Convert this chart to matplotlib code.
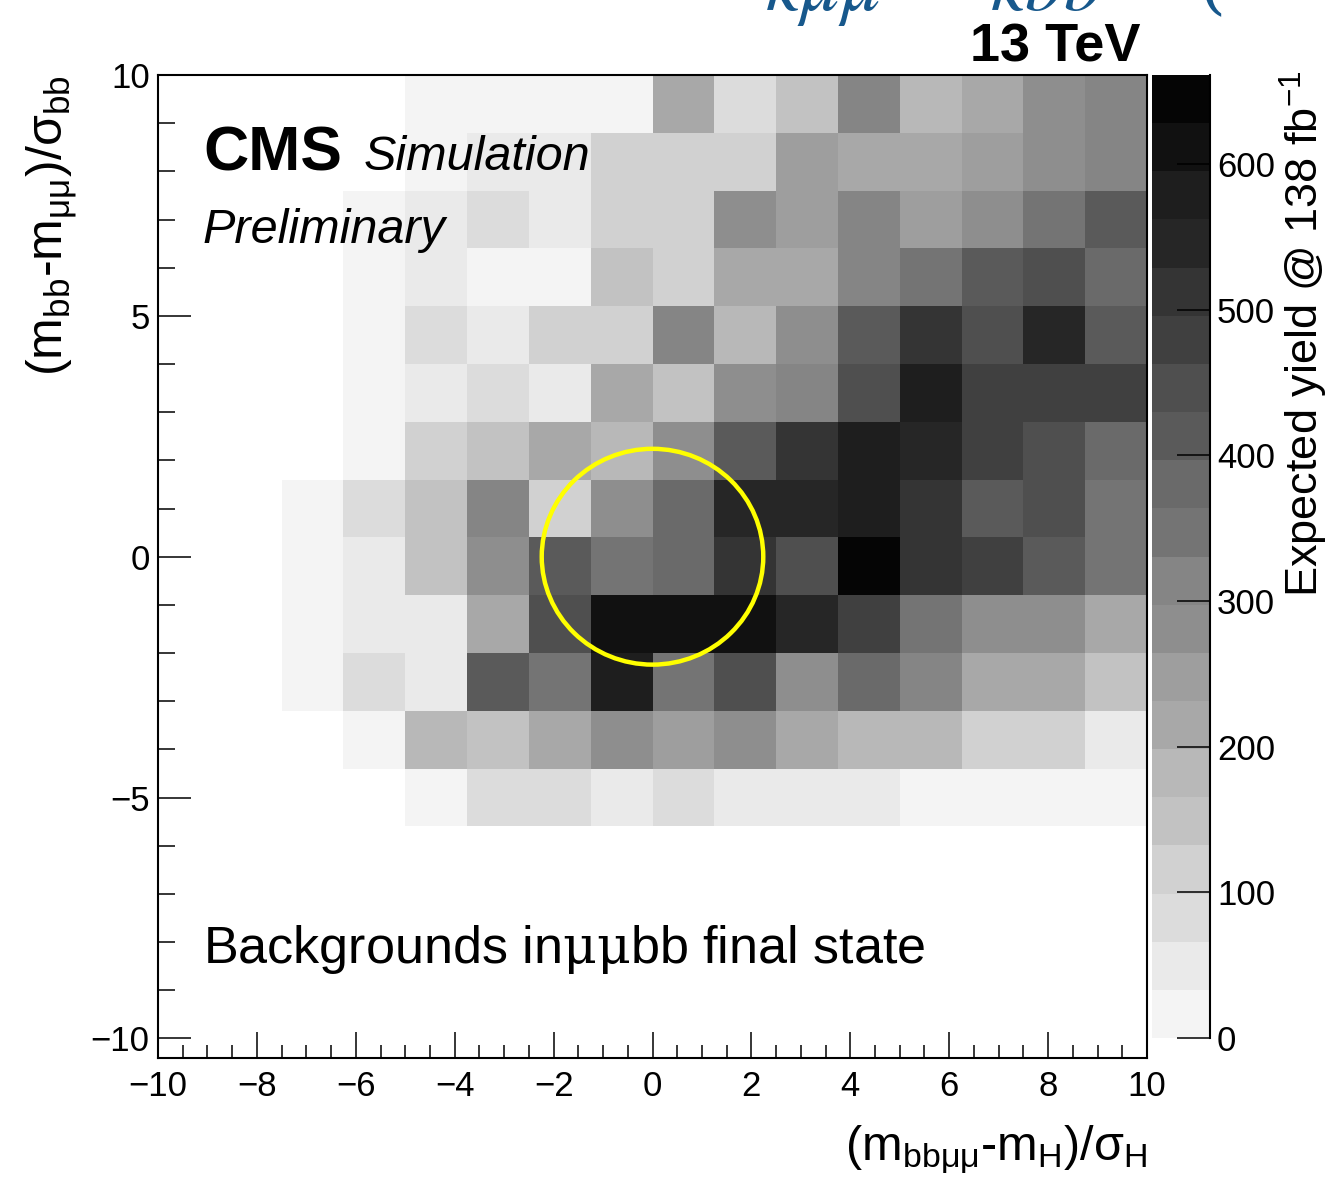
import numpy as np
import matplotlib
matplotlib.use("Agg")
import matplotlib.pyplot as plt
from matplotlib.colors import ListedColormap, BoundaryNorm
from matplotlib.patches import Circle
from matplotlib.ticker import MultipleLocator

plt.rcParams["font.family"] = ["Liberation Sans", "DejaVu Sans"]
plt.rcParams["mathtext.fontset"] = "custom"
plt.rcParams["mathtext.rm"] = "Liberation Sans"
plt.rcParams["mathtext.it"] = "Liberation Sans:italic"
plt.rcParams["mathtext.bf"] = "Liberation Sans:bold"
plt.rcParams["mathtext.sf"] = "Liberation Sans"

# binning: 16 x 17 bins
x_edges = np.linspace(-10.0, 10.0, 17)
y_edges = np.linspace(-10.4, 10.0, 18)

# expected background yield per bin, rows listed from the top (y = 10) downwards
yield_rows = [
    [0, 0, 0, 0, 17, 17, 17, 17, 215, 83, 149, 314, 182, 215, 281, 314],
    [0, 0, 0, 0, 17, 50, 50, 116, 116, 116, 248, 215, 215, 248, 281, 314],
    [0, 0, 0, 17, 50, 83, 50, 116, 116, 281, 248, 314, 248, 281, 347, 413],
    [0, 0, 0, 17, 50, 17, 17, 149, 116, 215, 215, 314, 347, 413, 446, 380],
    [0, 0, 0, 17, 83, 50, 116, 116, 314, 182, 281, 413, 512, 446, 545, 413],
    [0, 0, 0, 17, 50, 83, 50, 215, 149, 281, 314, 446, 578, 479, 479, 479],
    [0, 0, 0, 17, 116, 149, 215, 182, 281, 413, 512, 578, 545, 479, 446, 380],
    [0, 0, 17, 83, 149, 314, 116, 281, 380, 545, 545, 578, 512, 413, 446, 347],
    [0, 0, 17, 50, 149, 281, 413, 347, 380, 512, 446, 661, 512, 479, 413, 347],
    [0, 0, 17, 50, 50, 215, 446, 611, 611, 611, 545, 479, 347, 281, 281, 215],
    [0, 0, 17, 83, 50, 413, 347, 578, 347, 446, 281, 380, 314, 215, 215, 149],
    [0, 0, 0, 17, 182, 149, 215, 281, 248, 281, 215, 182, 182, 116, 116, 50],
    [0, 0, 0, 0, 17, 83, 83, 50, 83, 50, 50, 50, 17, 17, 17, 17],
    [0] * 16,
    [0] * 16,
    [0] * 16,
    [0] * 16,
]

z_max = 661.0
n_levels = 20
grey_levels = ["#f4f4f4", "#eaeaea", "#dcdcdc", "#d1d1d1", "#c2c2c2",
               "#b8b8b8", "#a8a8a8", "#9e9e9e", "#8e8e8e", "#858585",
               "#747474", "#6a6a6a", "#5a5a5a", "#4f4f4f", "#404040",
               "#343434", "#262626", "#1e1e1e", "#111111", "#050505"]

z = np.array(yield_rows, dtype=float)[::-1]
z = np.ma.masked_where(z <= 0, z)

cmap = ListedColormap(grey_levels)
norm = BoundaryNorm(np.linspace(0, z_max, n_levels + 1), cmap.N)

W, H = 1332, 1183
fig = plt.figure(figsize=(W / 100, H / 100), dpi=100)
ax = fig.add_axes([158 / W, 1 - 1057.7 / H, (1147 - 158) / W, (1057.7 - 75) / H])
cax = fig.add_axes([1152 / W, 1 - 1038 / H, 58 / W, (1038 - 75) / H])

mesh = ax.pcolormesh(x_edges, y_edges, z, cmap=cmap, norm=norm)
ax.add_patch(Circle((0, 0), 2.24, fill=False, edgecolor="#ffff00", lw=3.2, zorder=5))

ax.set_xlim(-10, 10)
ax.set_ylim(-10.4, 10)
ax.xaxis.set_major_locator(MultipleLocator(2))
ax.xaxis.set_minor_locator(MultipleLocator(0.5))
ax.yaxis.set_major_locator(MultipleLocator(5))
ax.yaxis.set_minor_locator(MultipleLocator(1))
ax.tick_params(which="both", direction="in", top=False, right=False, width=1.1,
               labelsize=25)
ax.tick_params(axis="x", which="major", length=19, pad=9)
ax.tick_params(axis="x", which="minor", length=9.5)
ax.tick_params(axis="y", which="major", length=24, pad=6)
ax.tick_params(axis="y", which="minor", length=12)
for s in ax.spines.values():
    s.set_linewidth(1.5)

cb = fig.colorbar(mesh, cax=cax, ticks=[0, 100, 200, 300, 400, 500, 600])
cb.outline.set_visible(False)
cax.spines["right"].set_visible(True)
cax.spines["right"].set_linewidth(1.5)
cax.tick_params(direction="in", length=24, width=1.1, labelsize=25, pad=5)
cb.minorticks_off()

# axis titles
fig.text(1147 / W, 1 - 1160 / H,
         r"(m$_{\mathrm{bb\mu\mu}}$-m$_{\mathrm{H}}$)/$\mathrm{\sigma}_{\mathrm{H}}$",
         ha="right", va="baseline", fontsize=35)
fig.text(52 / W, 1 - 75 / H,
         r"(m$_{\mathrm{bb}}$-m$_{\mathrm{\mu\mu}}$)/$\mathrm{\sigma}_{\mathrm{bb}}$",
         ha="center", va="top", rotation=90, fontsize=36)
fig.text(1304 / W, 1 - 70 / H, r"Expected yield @ 138 fb$^{\mathrm{-1}}$",
         ha="center", va="top", rotation=90, fontsize=32.5)

# labels inside the frame
ax.text(0.0455, 0.9033, "CMS", transform=ax.transAxes, fontsize=45,
        fontweight="bold", va="baseline")
ax.text(0.208, 0.9033, "Simulation", transform=ax.transAxes, fontsize=35,
        style="italic", va="baseline")
ax.text(0.0455, 0.829, "Preliminary", transform=ax.transAxes, fontsize=35,
        style="italic", va="baseline")
ax.text(0.0455, 0.0964, r"Backgrounds in$\mathrm{\mu\mu}$bb final state",
        transform=ax.transAxes, fontsize=37.5, va="baseline",
        math_fontfamily="dejavuserif")

fig.text(1140 / W, 1 - 62 / H, "13 TeV", ha="right", va="baseline",
         fontsize=39, fontweight="bold")

# header formula above the frame
blue = "#17588c"
fig.text(765 / W, 1 - 10 / H, r"$\kappa\mu\mu$", fontsize=56, color=blue,
         va="baseline", math_fontfamily="stix")
fig.text(990 / W, 1 - 10 / H, r"$\kappa bb$", fontsize=56, color=blue,
         va="baseline", math_fontfamily="stix")
fig.text(1198 / W, 1 - 6 / H, "(", fontsize=50, color=blue,
         va="baseline", family="DejaVu Serif")

fig.savefig("out.png", dpi=100)
